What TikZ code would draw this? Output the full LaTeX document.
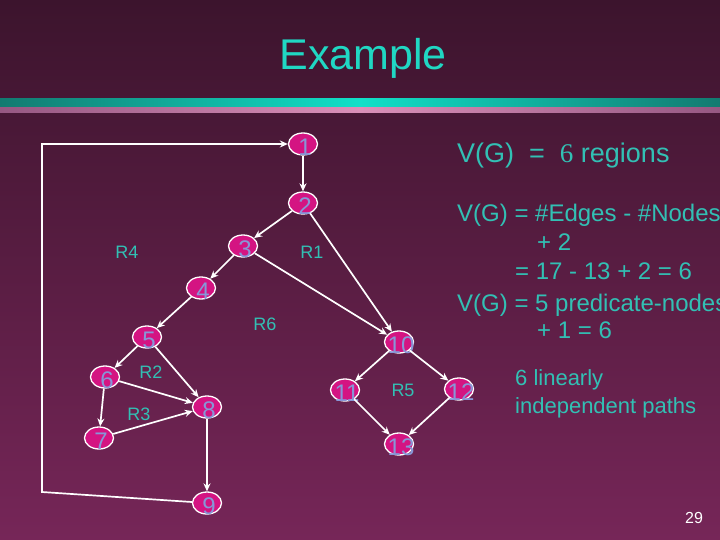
\documentclass[tikz,border=0pt]{standalone}
\usepackage{fontspec}
\setmainfont{Liberation Sans}
\newfontfamily\sixfont{Liberation Serif}
\usepackage{tikz}
\usetikzlibrary{arrows.meta,shapes.geometric}
\definecolor{bgtop}{RGB}{60,20,45}
\definecolor{bgbot}{RGB}{118,38,88}
\definecolor{nodefill}{RGB}{212,20,130}
\definecolor{numblue}{RGB}{135,150,215}
\definecolor{tealtxt}{RGB}{50,192,180}
\definecolor{titleteal}{RGB}{32,215,195}
\definecolor{banddark}{RGB}{18,122,112}
\definecolor{bandlight}{RGB}{16,224,200}
\definecolor{pinkdark}{RGB}{150,88,130}
\definecolor{pinklight}{RGB}{218,144,184}

\begin{document}
\begin{tikzpicture}[x=1pt, y=-1pt,
    vtx/.style={ellipse, draw=white, line width=1.3pt, fill=nodefill,
                minimum width=29pt, minimum height=22pt, inner sep=0pt,
                label={[num]center:#1}},
    num/.style={font=\fontsize{24}{24}\selectfont, text=numblue,
                xshift=2pt, yshift=-3pt},
    reg/.style={font=\fontsize{18}{18}\selectfont, text=tealtxt},
    txt/.style={anchor=base west, inner sep=0pt, text=tealtxt,
                font=\fontsize{24}{24}\selectfont},
    edge/.style={-{Stealth[length=8pt, width=7pt]}, white, line width=1.7pt}]
  \useasboundingbox (0,0) rectangle (720,540);
  \shade[top color=bgtop, bottom color=bgbot] (0,0) rectangle (720,540);
  \shade[left color=banddark, right color=banddark, middle color=bandlight]
    (0,99) rectangle (720,107);
  \fill[black!70!bgtop] (0,107) rectangle (720,108);
  \shade[left color=pinkdark, right color=pinkdark, middle color=pinklight]
    (0,108) rectangle (720,113);

  \node[anchor=base, text=titleteal, font=\fontsize{43}{43}\selectfont]
    (title) at (363,70) {Example};

  \node[vtx=1]  (n1)  at (303,144) {};
  \node[vtx=2]  (n2)  at (303,203) {};
  \node[vtx=3]  (n3)  at (243,246) {};
  \node[vtx=4]  (n4)  at (201,288) {};
  \node[vtx=5]  (n5)  at (147,337) {};
  \node[vtx=6]  (n6)  at (105,377) {};
  \node[vtx=7]  (n7)  at (99,438)  {};
  \node[vtx=8]  (n8)  at (207,407) {};
  \node[vtx=9]  (n9)  at (207,503) {};
  \node[vtx=10] (n10) at (399,342) {};
  \node[vtx=11] (n11) at (345,390) {};
  \node[vtx=12] (n12) at (459,389) {};
  \node[vtx=13] (n13) at (399,444) {};
  \coordinate (lb) at (42,492);
  \coordinate (lt) at (42,144);

  \draw[edge] (n1) -- (n2);
  \draw[edge] (n2) -- (n3);
  \draw[edge] (n2) -- (n10);
  \draw[edge] (n3) -- (n4);
  \draw[edge] (n3) -- (n10);
  \draw[edge] (n4) -- (n5);
  \draw[edge] (n5) -- (n6);
  \draw[edge] (n5) -- (n8);
  \draw[edge] (n6) -- (n7);
  \draw[edge] (n6) -- (n8);
  \draw[edge] (n7) -- (n8);
  \draw[edge] (n8) -- (n9);
  \draw[edge] (n10) -- (n11);
  \draw[edge] (n10) -- (n12);
  \draw[edge] (n11) -- (n13);
  \draw[edge] (n12) -- (n13);
  \draw[edge] (n9) -- (lb) -- (lt) -- (n1);

  \node[reg] (r4) at (127,252) {R4};
  \node[reg] (r1) at (312,252) {R1};
  \node[reg] (r6) at (265,324) {R6};
  \node[reg] (r2) at (151,372) {R2};
  \node[reg] (r3) at (139,414) {R3};
  \node[reg] (r5) at (403,390) {R5};

  \node[txt, font=\fontsize{27}{27}\selectfont] (vg) at (457,163)
    {V(G)\ \ =\ \ {\sixfont 6} regions};
  \node[txt] (f1) at (457,222) {V(G) = \#Edges - \#Nodes};
  \node[txt] (f2) at (537,250) {+ 2};
  \node[txt] (f3) at (515,279) {= 17 - 13 + 2 = 6};
  \node[txt] (f4) at (457,311) {V(G) = 5 predicate-nodes};
  \node[txt] (f5) at (537,338) {+ 1 = 6};
  \node[txt, font=\fontsize{22}{22}\selectfont] (p1) at (515,385) {6 linearly};
  \node[txt, font=\fontsize{22}{22}\selectfont] (p2) at (515,413) {independent paths};
  \node[txt, text=white, font=\fontsize{16}{16}\selectfont] (pg) at (685,523) {29};
\end{tikzpicture}
\end{document}
